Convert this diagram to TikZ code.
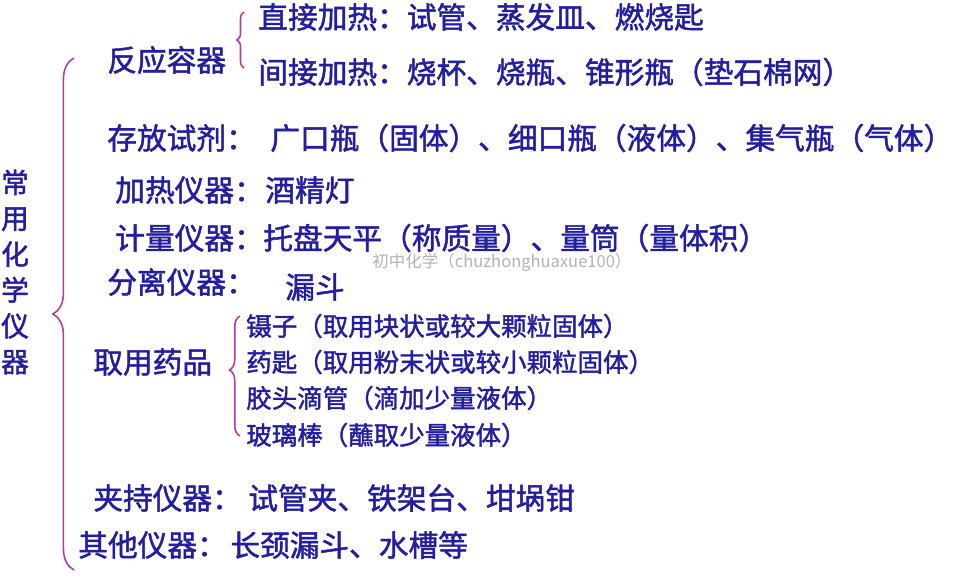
\documentclass[tikz,border=0pt]{standalone}
\usepackage{fontspec}
\setmainfont{Noto Sans CJK SC}[FakeBold=1.6]
\newfontfamily\markfont{Noto Sans CJK SC}
\usetikzlibrary{decorations.pathreplacing}
\definecolor{inkblue}{RGB}{35,30,160}
\definecolor{bracepink}{RGB}{175,60,160}
\tikzset{
  big/.style={anchor=west, inner sep=0pt, text=inkblue, font=\fontsize{16.9}{18}\selectfont},
  small/.style={anchor=west, inner sep=0pt, text=inkblue, font=\fontsize{14.5}{16}\selectfont},
  curly/.style={draw=bracepink, line width=0.9pt, decorate, decoration={brace, amplitude=#1}},
  curly/.default=5pt,
}
\begin{document}
\begin{tikzpicture}[x=0.02cm, y=-0.02cm]
  \useasboundingbox (0,0) rectangle (960,576);
  \node [inner sep=0pt, align=center, text=inkblue, font=\fontsize{15.8}{20.4}\selectfont] (title) at (15,272) {常\\用\\化\\学\\仪\\器};
  % reaction vessels
  \node [big] (fanying) at (107,60) {反应容器};
  \node [big] (zhijie) at (258,17) {直接加热：试管、蒸发皿、燃烧匙};
  \node [big] (jianjie) at (258,72) {间接加热：烧杯、烧瓶、锥形瓶（垫石棉网）};
  \node [big] (cunfang) at (107,138) {存放试剂：};
  \node [big] (cunfangx) at (270,138) {广口瓶（固体）、细口瓶（液体）、集气瓶（气体）};
  \node [big] (jiare) at (115,190) {加热仪器：};
  \node [big] (jiarex) at (265,190) {酒精灯};
  \node [big] (jiliang) at (115,238) {计量仪器：};
  \node [big] (jiliangx) at (263,238) {托盘天平（称质量）、量筒（量体积）};
  \node [anchor=west, inner sep=0pt, text=black!30, font=\markfont\fontsize{9.4}{10}\selectfont] (mark) at (372,262) {初中化学（chuzhonghuaxue100）};
  \node [big] (fenli) at (107,282) {分离仪器：};
  \node [big] (fenlix) at (285,287) {漏斗};
  % taking chemicals
  \node [big] (quyong) at (93,362) {取用药品};
  \node [small] (niezi) at (246,326) {镊子（取用块状或较大颗粒固体）};
  \node [small] (yaochi) at (246,362) {药匙（取用粉末状或较小颗粒固体）};
  \node [small] (jiaotou) at (246,398) {胶头滴管（滴加少量液体）};
  \node [small] (boli) at (246,435) {玻璃棒（蘸取少量液体）};
  \node [big] (jiachi) at (93,498) {夹持仪器：};
  \node [big] (jiachix) at (248,498) {试管夹、铁架台、坩埚钳};
  \node [big] (qita) at (78,545) {其他仪器：};
  \node [big] (qitax) at (230,545) {长颈漏斗、水槽等};
  % braces
  \draw [curly=12pt, decoration={aspect=0.5}] (74,570) -- (74,58);
  \draw [curly=4pt] (244,68) -- (244,12);
  \draw [curly=6pt, decoration={aspect=0.55}] (240,436) -- (240,316);
\end{tikzpicture}
\end{document}
